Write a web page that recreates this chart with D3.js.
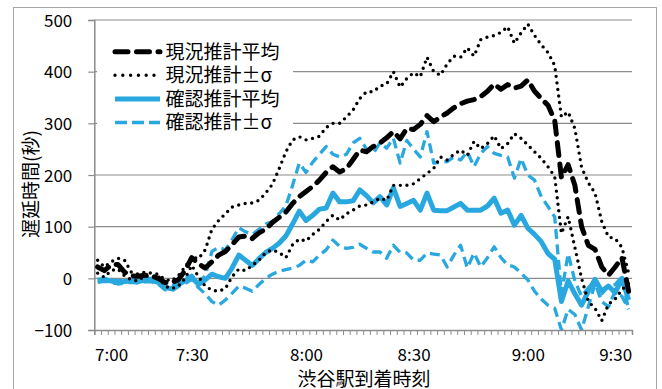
<!DOCTYPE html>
<html>
<head>
<meta charset="utf-8">
<script src="https://cdn.jsdelivr.net/npm/d3@7"></script>
<style>
  html, body { margin: 0; padding: 0; background: #fff; }
  svg { display: block; font-family: "Noto Sans CJK JP", "Noto Sans", sans-serif; }
</style>
</head>
<body>
<svg id="chart" width="662" height="389"></svg>
<script>
// Arrival trains at Shibuya, in order (80 arrivals); labelled ones carry a clock time
const arrivalCount = 80;
const tickIndex = [2, 14, 31, 47, 64, 77];
const tickText = ["7:00", "7:30", "8:00", "8:30", "9:00", "9:30"];
const yTicks = [-100, 0, 100, 200, 300, 400, 500];

// 現況推計 (current estimate): mean and mean ± σ, seconds of delay
const currentMean = [22,15,26,27,12,5,4,6,5,0,
  -8,-8,-3,15,40,28,20,32,45,52,
  65,80,82,77,88,95,108,118,128,145,
  158,168,178,190,205,216,206,212,230,248,
  245,255,262,272,284,270,290,288,298,315,
  303,312,320,330,338,343,346,352,362,376,
  366,375,368,372,384,362,348,335,306,195,
  220,180,100,64,56,22,6,22,40,-25];
const currentUpper = [35,22,32,39,35,12,8,12,10,8,
  -2,-5,5,22,42,38,55,95,112,125,
  138,142,145,146,151,165,182,212,245,268,
  274,268,271,275,292,300,300,312,326,348,
  361,361,372,376,400,370,387,398,390,428,
  400,393,415,430,428,446,430,462,467,470,
  476,487,455,475,492,470,452,437,412,312,
  322,290,215,185,165,110,80,77,60,10];
const currentLower = [10,2,15,18,5,-3,-5,5,2,5,
  -15,-20,-15,0,25,3,-15,-23,-25,-20,
  3,18,15,25,35,50,55,50,40,65,
  76,72,85,95,110,122,113,125,132,140,
  142,148,155,151,180,180,180,183,193,203,
  213,235,229,240,248,238,265,251,261,276,
  251,261,280,271,258,245,232,216,197,87,
  119,60,0,-45,-58,-82,-50,-40,-22,-10];

// 確認推計 (verified estimate): mean and mean ± σ
const verifiedMean = [-5,-3,-5,-8,-6,-5,-6,-4,-4,-8,
  -18,-20,-12,-5,2,-12,-3,8,3,0,
  20,45,35,25,38,50,58,68,82,105,
  130,112,122,134,136,165,148,148,150,171,
  160,146,158,142,175,139,145,151,132,165,
  132,131,131,138,145,132,132,132,140,155,
  126,132,103,122,97,85,71,48,37,-45,
  -5,-30,-52,-25,-2,-25,-15,-28,0,-42];
const verifiedUpper = [-2,0,-2,-5,-3,-2,-3,0,0,-4,
  -14,-15,-8,0,6,-8,5,52,60,55,
  75,98,90,85,95,105,110,125,140,180,
  223,205,225,240,255,240,235,240,262,271,
  250,242,262,252,271,223,267,250,235,284,
  223,225,226,235,229,245,216,242,255,242,
  238,235,194,232,200,190,158,139,119,-30,
  48,-5,-35,-18,-5,-30,-15,-12,3,-62];
const verifiedLower = [-8,-6,-8,-11,-9,-8,-9,-7,-7,-11,
  -22,-25,-16,-10,-2,-18,-30,-45,-52,-42,
  -29,-15,-19,-25,-12,0,8,14,17,20,
  25,35,32,45,55,74,62,58,60,66,
  58,51,51,39,64,50,49,35,35,49,
  47,45,22,45,64,20,49,22,40,61,
  40,26,22,10,-3,-25,-40,-52,-58,-100,
  -60,-70,-100,-55,-10,-45,-55,-25,-35,-60];

const BLUE = "#29a8e0";
const GRID = "#8c8c8c";

// line styles shared by plot and legend
const styleCurrentMean = { stroke: "#000", width: 5, dash: "13,8.5", cap: "round" };
const styleCurrentBand = { stroke: "#000", width: 3.4, dash: "0,6.6", cap: "round" };
const styleVerifiedMean = { stroke: BLUE, width: 5, dash: null, cap: "butt" };
const styleVerifiedBand = { stroke: BLUE, width: 3.3, dash: "10,5.5", cap: "butt" };

const svg = d3.select("#chart");
const plot = { left: 94.3, right: 632, top: 20, bottom: 330 };

// chart area frame
svg.append("rect")
  .attr("x", 13.5).attr("y", 7.5)
  .attr("width", 643).attr("height", 400)
  .attr("fill", "#fff").attr("stroke", "#a6a6a6").attr("stroke-width", 1);

// category scale (arrival order), band edges for tick marks
const xEdge = d3.scaleLinear().domain([0, arrivalCount]).range([plot.left, plot.right]);
const xPos = i => xEdge(i + 0.5);
const y = d3.scaleLinear().domain([-100, 500]).range([plot.bottom, plot.top]);

// horizontal gridlines
svg.append("g")
  .selectAll("line")
  .data(yTicks.filter(v => v > -100))
  .join("line")
  .attr("x1", plot.left).attr("x2", plot.right)
  .attr("y1", d => y(d)).attr("y2", d => y(d))
  .attr("stroke", GRID).attr("stroke-width", 1.2);

// y axis
const yAxis = svg.append("g")
  .attr("transform", `translate(${plot.left},0)`)
  .call(d3.axisLeft(y).tickValues(yTicks).tickSize(6).tickPadding(16).tickFormat(d3.format("d")));
yAxis.select(".domain").attr("stroke", GRID).attr("stroke-width", 1.5);
yAxis.selectAll(".tick line").attr("stroke", GRID).attr("stroke-width", 1.2);
yAxis.selectAll("text").attr("font-size", 17).attr("fill", "#000")
  .attr("font-family", "'Noto Sans CJK JP', sans-serif").attr("dy", "0.36em");

// x axis: a tick at every category boundary
const xAxis = svg.append("g")
  .attr("transform", `translate(0,${plot.bottom})`)
  .call(d3.axisBottom(xEdge).tickValues(d3.range(arrivalCount + 1)).tickSize(5).tickFormat(""));
xAxis.select(".domain").attr("stroke", GRID).attr("stroke-width", 1.5);
xAxis.selectAll(".tick line").attr("stroke", GRID).attr("stroke-width", 1);

// x axis clock labels at the labelled arrivals
const xLabels = svg.append("g")
  .attr("transform", `translate(0,${plot.bottom})`)
  .call(d3.axisBottom(xEdge)
    .tickValues(tickIndex.map(i => i + 0.5))
    .tickSize(0)
    .tickFormat((d, k) => tickText[k]));
xLabels.select(".domain").remove();
xLabels.selectAll("text").attr("font-size", 17).attr("fill", "#000")
  .attr("font-family", "'Noto Sans CJK JP', sans-serif")
  .attr("y", 31).attr("dy", null);

// axis titles
svg.append("text")
  .attr("x", 364).attr("y", 385.5)
  .attr("text-anchor", "middle")
  .attr("font-size", 19)
  .text("渋谷駅到着時刻");
svg.append("text")
  .attr("transform", "translate(38,184) rotate(-90)")
  .attr("text-anchor", "middle")
  .attr("font-size", 19)
  .text("遅延時間(秒)");

// series
svg.append("clipPath").attr("id", "plotclip")
  .append("rect").attr("x", plot.left).attr("y", plot.top - 5)
  .attr("width", plot.right - plot.left).attr("height", plot.bottom - plot.top + 5);

const line = d3.line().x((d, i) => xPos(i)).y(d => y(d));
const series = [
  { values: verifiedLower, ...styleVerifiedBand },
  { values: verifiedUpper, ...styleVerifiedBand },
  { values: verifiedMean, ...styleVerifiedMean },
  { values: currentLower, ...styleCurrentBand },
  { values: currentUpper, ...styleCurrentBand },
  { values: currentMean, ...styleCurrentMean }
];
const gSeries = svg.append("g").attr("clip-path", "url(#plotclip)");
series.forEach(s => {
  gSeries.append("path")
    .datum(s.values)
    .attr("d", line)
    .attr("fill", "none")
    .attr("stroke", s.stroke)
    .attr("stroke-width", s.width)
    .attr("stroke-linejoin", "round")
    .attr("stroke-linecap", s.cap)
    .attr("stroke-dasharray", s.dash);
});

// legend
const legendItems = [
  { label: "現況推計平均", ...styleCurrentMean },
  { label: "現況推計±σ", ...styleCurrentBand, dash: "0,7.8" },
  { label: "確認推計平均", ...styleVerifiedMean },
  { label: "確認推計±σ", ...styleVerifiedBand, dash: "12,5" }
];
const legend = svg.append("g");
legend.append("rect")
  .attr("x", 97).attr("y", 33).attr("width", 196).attr("height", 104)
  .attr("fill", "#fff");
const rowY = k => 51.7 + k * 23.6;
legendItems.forEach((it, k) => {
  legend.append("line")
    .attr("x1", 115).attr("x2", 160)
    .attr("y1", rowY(k)).attr("y2", rowY(k))
    .attr("stroke", it.stroke).attr("stroke-width", it.width)
    .attr("stroke-linecap", it.cap)
    .attr("stroke-dasharray", it.dash);
});
// legend labels as one multi-line text block
legend.append("text")
  .attr("font-size", 19)
  .selectAll("tspan")
  .data(legendItems)
  .join("tspan")
  .attr("x", 165.5)
  .attr("y", (d, k) => rowY(k) + 6.8)
  .text(d => d.label);
</script>
</body>
</html>
